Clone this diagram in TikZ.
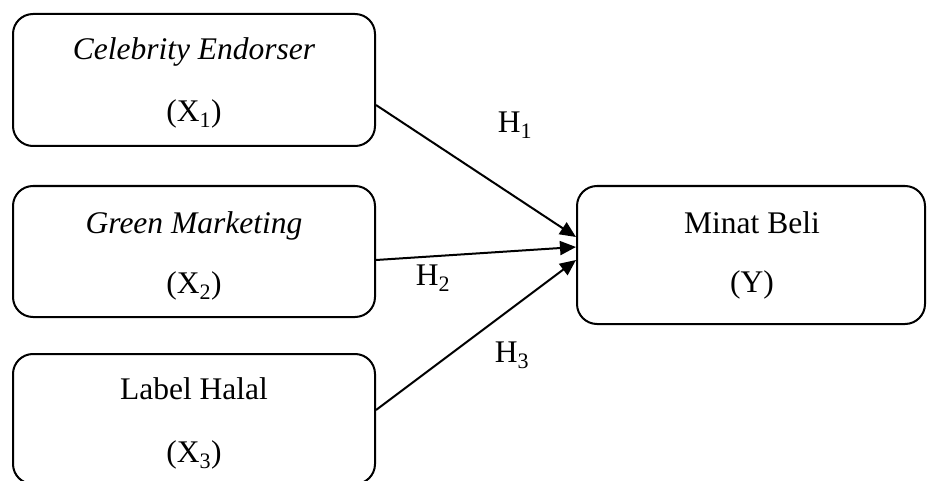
\documentclass[tikz,border=0pt]{standalone}
\usepackage{fontspec}
\setmainfont{Liberation Serif}
\usetikzlibrary{arrows.meta}
\begin{document}
\begin{tikzpicture}[x=1pt,y=-1pt,
  vbox/.style={draw, line width=2pt, rounded corners=20pt, minimum width=362pt, minimum height=132pt, inner sep=0pt},
  txt/.style={anchor=base, inner sep=0pt, font=\fontsize{31.5}{38}\selectfont},
  arr/.style={line width=2pt, -{Triangle[length=16pt,width=14pt]}}]
\useasboundingbox (0,0) rectangle (928,481);
\node[vbox] (b1) at (194,80) {};
\node[vbox, minimum height=131pt] (b2) at (194,251.5) {};
\node[vbox, minimum height=130pt] (b3) at (194,419) {};
\node[vbox, minimum width=348pt, minimum height=138pt] (y) at (751,255) {};
\node[txt] (t1a) at (194,60) {\itshape Celebrity Endorser};
\node[txt] (t1b) at (194,122) {(X\textsubscript{1})};
\node[txt] (t2a) at (194,233) {\itshape Green Marketing};
\node[txt] (t2b) at (194,293) {(X\textsubscript{2})};
\node[txt] (t3a) at (194,399) {Label Halal};
\node[txt] (t3b) at (194,462) {(X\textsubscript{3})};
\node[txt] (tya) at (752,233) {Minat Beli};
\node[txt] (tyb) at (752,292) {(Y)};
\coordinate (s1) at ([yshift=-25pt]b1.east);
\coordinate (s2) at ([yshift=-8.5pt]b2.east);
\coordinate (s3) at ([yshift=9pt]b3.east);
\coordinate (e1) at ([yshift=18pt]y.west);
\coordinate (e2) at ([yshift=8pt]y.west);
\coordinate (e3) at ([yshift=-5pt]y.west);
\draw[arr] (s1) -- (e1);
\draw[arr] (s2) -- (e2);
\draw[arr] (s3) -- (e3);
\node[txt] (h1) at (515,133) {H\textsubscript{1}};
\node[txt] (h2) at (433,285) {H\textsubscript{2}};
\node[txt] (h3) at (512,362) {H\textsubscript{3}};
\end{tikzpicture}
\end{document}
